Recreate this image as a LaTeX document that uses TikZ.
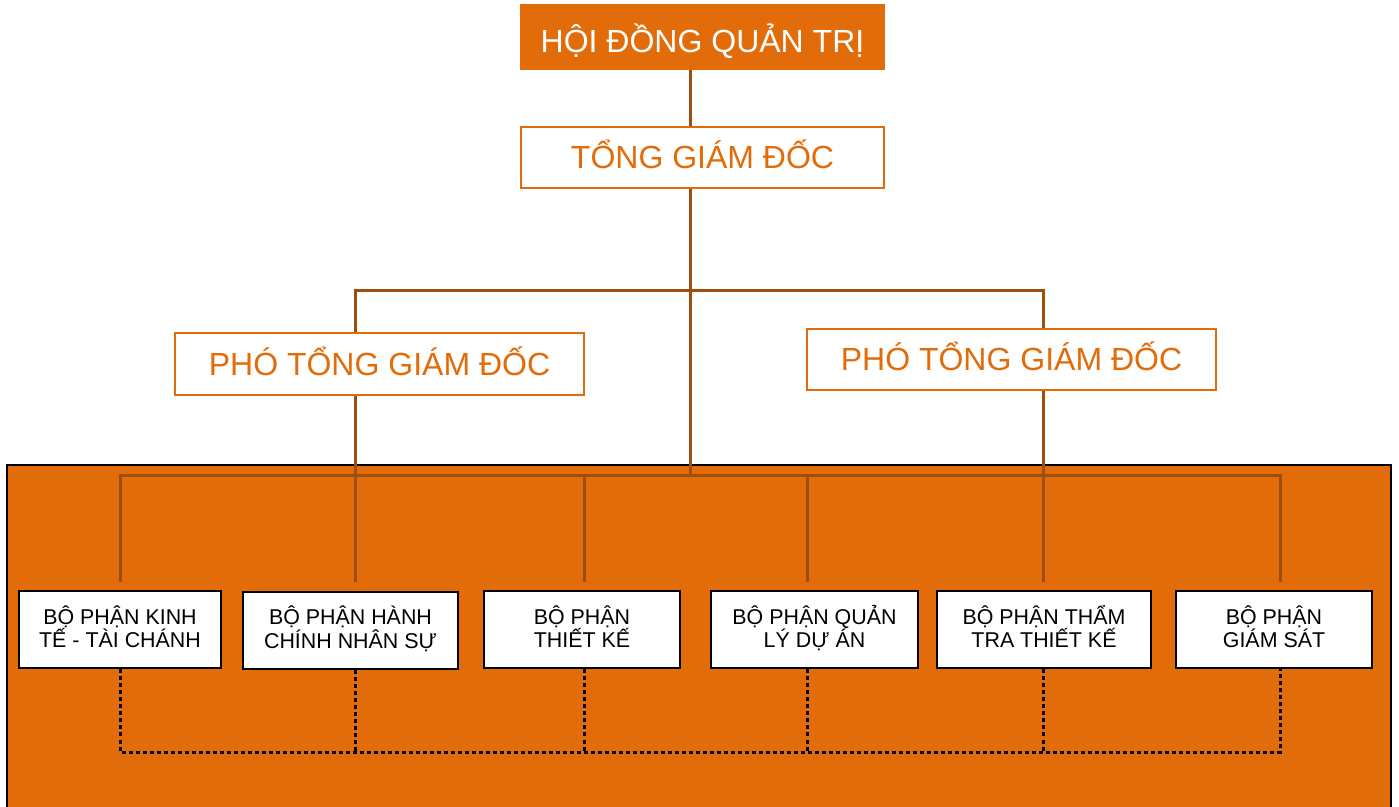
\documentclass[tikz,border=0pt]{standalone}
\usepackage{fontspec}
\setmainfont{Liberation Sans}
\definecolor{orgfill}{RGB}{227,108,10}
\definecolor{linebrown}{RGB}{158,78,12}
\tikzset{
  topbox/.style={draw=orgfill, fill=orgfill, line width=1pt, text=white, font=\fontsize{16}{19}\selectfont, inner sep=0pt, text height=17pt, text depth=1pt},
  midbox/.style={draw=orgfill, fill=white, line width=0.8pt, text=orgfill, font=\fontsize{16}{19}\selectfont, inner sep=0pt, text height=13pt, text depth=1.5pt},
  deptbox/.style={draw=black, fill=white, line width=1pt, text=black, font=\fontsize{10.7}{12}\selectfont, align=center, inner sep=0pt, minimum height=38.5pt, text height=22pt, text depth=4pt},
  conn/.style={draw=linebrown, line width=1.5pt},
  dotconn/.style={draw=black, line width=1.5pt, dash pattern=on 2pt off 1.5pt}
}
\begin{document}
\begin{tikzpicture}[x=0.5pt,y=-0.5pt]
\useasboundingbox (0,0) rectangle (1399,807);
% background panel
\fill[orgfill] (7,465) rectangle (1391,807);
\draw[black, line width=1pt] (7,807) -- (7,465) -- (1391,465) -- (1391,807);

% nodes
\node[topbox, minimum width=181.5pt, minimum height=32pt] (hdqt) at (702.5,37) {HỘI ĐỒNG QUẢN TRỊ};
\node[midbox, minimum width=181.5pt, minimum height=30.5pt] (tgd) at (702.5,157.5) {TỔNG GIÁM ĐỐC};
\node[midbox, minimum width=204.5pt, minimum height=31pt] (ptg1) at (379.5,364) {PHÓ TỔNG GIÁM ĐỐC};
\node[midbox, minimum width=204.5pt, minimum height=30.5pt] (ptg2) at (1011.5,359.5) {PHÓ TỔNG GIÁM ĐỐC};

\node[deptbox, minimum width=101pt] (d1) at (120,630) {BỘ PHẬN KINH\\TẾ - TÀI CHÁNH};
\node[deptbox, minimum width=107.5pt] (d2) at (350.5,630.5) {BỘ PHẬN HÀNH\\CHÍNH NHÂN SỰ};
\node[deptbox, minimum width=98pt] (d3) at (582,630) {BỘ PHẬN\\THIẾT KẾ};
\node[deptbox, minimum width=103.5pt] (d4) at (814.5,630) {BỘ PHẬN QUẢN\\LÝ DỰ ÁN};
\node[deptbox, minimum width=107pt] (d5) at (1044,630) {BỘ PHẬN THẨM\\TRA THIẾT KẾ};
\node[deptbox, minimum width=98pt] (d6) at (1274,630) {BỘ PHẬN\\GIÁM SÁT};

% helper coordinates
\coordinate (trunk) at (690,0);
\coordinate (xa) at (120,0);
\coordinate (xb) at (355,0);
\coordinate (xc) at (584,0);
\coordinate (xd) at (807,0);
\coordinate (xe) at (1043,0);
\coordinate (xf) at (1280,0);
\coordinate (topbus) at (0,291);
\coordinate (bus) at (0,476);
\coordinate (stop) at (0,582);
\coordinate (dotbus) at (0,752);

% solid connectors
\draw[conn] (hdqt.south -| trunk) -- (tgd.north -| trunk);
\draw[conn] (tgd.south -| trunk) -- (bus -| trunk);
\draw[conn] (ptg1.north -| xb) -- (topbus -| xb) -- (topbus -| xe) -- (ptg2.north -| xe);
\draw[conn] (ptg1.south -| xb) -- (stop -| xb);
\draw[conn] (ptg2.south -| xe) -- (stop -| xe);
\draw[conn] (stop -| xa) -- (bus -| xa) -- (bus -| xf) -- (stop -| xf);
\draw[conn] (bus -| xc) -- (stop -| xc);
\draw[conn] (bus -| xd) -- (stop -| xd);

% dotted connectors
\draw[dotconn] (d1.south -| xa) -- (dotbus -| xa) -- (dotbus -| xf) -- (d6.south -| xf);
\draw[dotconn] (d2.south -| xb) -- (dotbus -| xb);
\draw[dotconn] (d3.south -| xc) -- (dotbus -| xc);
\draw[dotconn] (d4.south -| xd) -- (dotbus -| xd);
\draw[dotconn] (d5.south -| xe) -- (dotbus -| xe);
\end{tikzpicture}
\end{document}
